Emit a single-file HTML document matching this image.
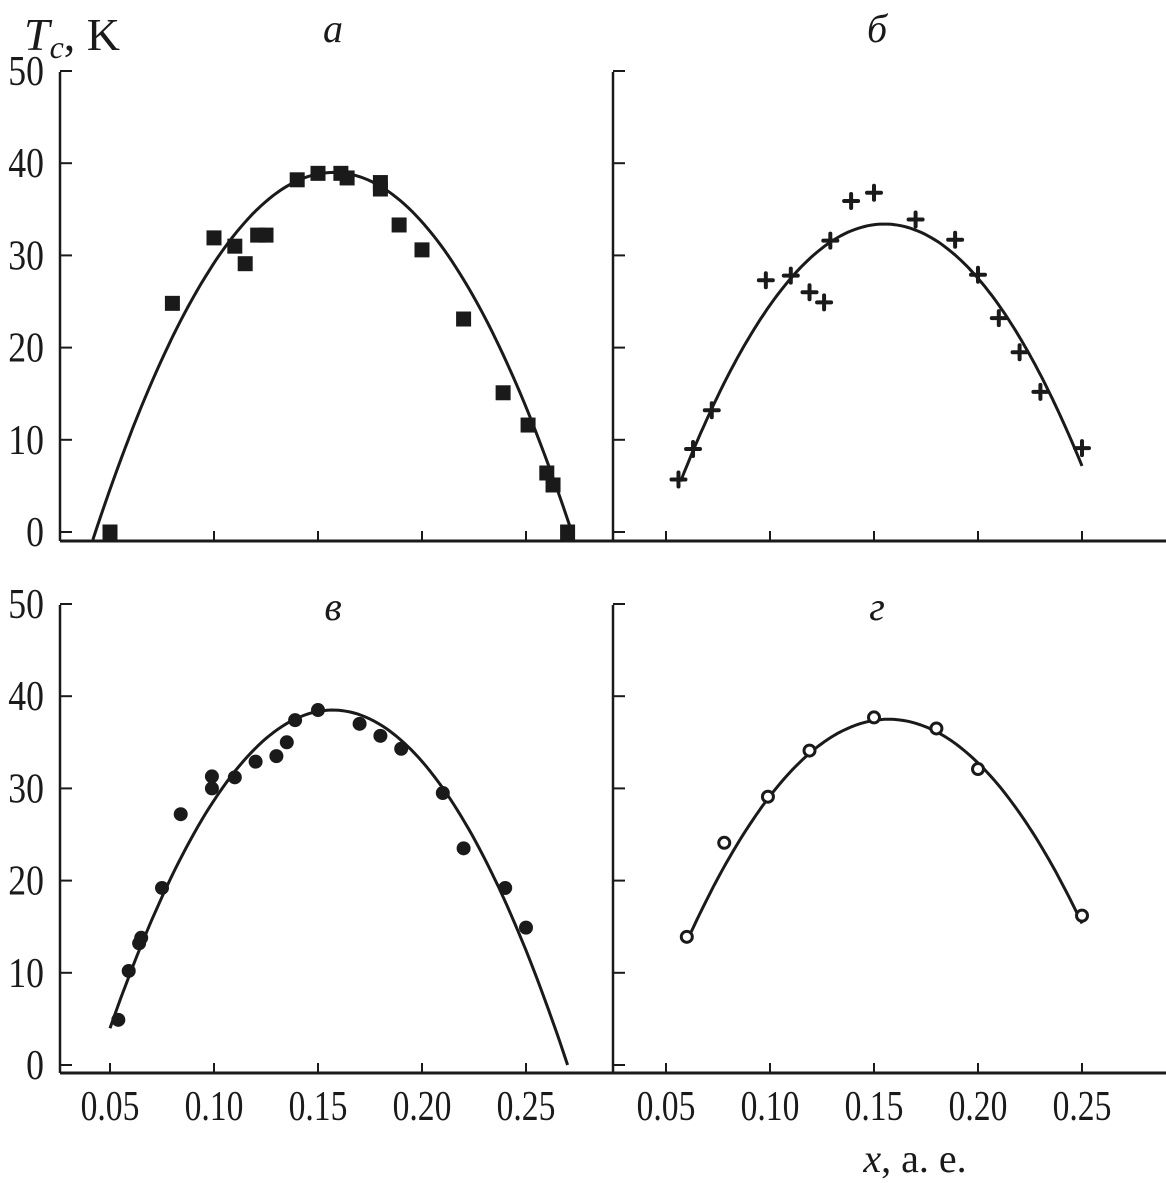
<!DOCTYPE html>
<html><head><meta charset="utf-8"><style>
html,body{margin:0;padding:0;background:#fff;}
svg{display:block;}
text{font-family:"Liberation Serif",serif;fill:#1a1a1a;}
</style></head><body>
<svg id="chart" width="1166" height="1183" viewBox="0 0 1166 1183" xmlns="http://www.w3.org/2000/svg"></svg>
<script>
// ---- data ----
const aX=[0.050,0.080,0.100,0.110,0.115,0.121,0.125,0.140,0.150,0.161,0.164,0.180,0.180,0.189,0.200,0.220,0.239,0.251,0.260,0.263,0.270];
const aY=[0,24.8,31.9,31.0,29.1,32.2,32.2,38.2,38.9,38.9,38.4,37.9,37.2,33.3,30.6,23.1,15.1,11.6,6.4,5.1,0];
const bX=[0.056,0.063,0.072,0.098,0.110,0.119,0.126,0.129,0.139,0.150,0.170,0.189,0.200,0.210,0.220,0.230,0.250];
const bY=[5.7,9.0,13.2,27.3,27.8,26.0,24.9,31.6,35.9,36.8,33.9,31.7,27.9,23.2,19.5,15.2,9.1];
const cX=[0.054,0.059,0.064,0.065,0.075,0.084,0.099,0.099,0.110,0.120,0.130,0.135,0.139,0.150,0.170,0.180,0.190,0.210,0.220,0.240,0.250];
const cY=[4.9,10.2,13.2,13.8,19.2,27.2,31.3,30.0,31.2,32.9,33.5,35.0,37.4,38.5,37.0,35.7,34.3,29.5,23.5,19.2,14.9];
const dX=[0.060,0.078,0.099,0.119,0.150,0.180,0.200,0.250];
const dY=[13.9,24.1,29.1,34.1,37.7,36.5,32.1,16.2];
// fitted parabola params: [peak Tc, peak x, half-width, x from, x to]
const aFit=[39,0.1575,0.1145,0.0418,0.272];
const bFit=[33.4,0.155,0.1072,0.057,0.25];
const cFit=[38.5,0.157,0.113,0.05,0.27];
const dFit=[37.5,0.157,0.121,0.06,0.25];
const xTicks=[0.05,0.10,0.15,0.20,0.25];
const xTickLabels=["0.05","0.10","0.15","0.20","0.25"];
const yTicks=[0,10,20,30,40,50];
const yTickLabels=["0","10","20","30","40","50"];

const NS="http://www.w3.org/2000/svg";
const svg=document.getElementById('chart');
function mk(tag,attrs,parent,txt){const e=document.createElementNS(NS,tag);for(const k in attrs)e.setAttribute(k,attrs[k]);if(txt!==undefined)e.textContent=txt;(parent||svg).appendChild(e);return e;}

const panels=[
 {name:'a',x0:110,y0:532,axisY:541,left:60,right:613,top:72,labelY:42,label:'а',X:aX,Y:aY,fit:aFit,mark:'square'},
 {name:'b',x0:666,y0:532,axisY:541,left:613,right:1166,top:72,labelY:42,label:'б',X:bX,Y:bY,fit:bFit,mark:'plus'},
 {name:'c',x0:110,y0:1065,axisY:1073,left:60,right:613,top:605,labelY:620,label:'в',X:cX,Y:cY,fit:cFit,mark:'dot'},
 {name:'d',x0:666,y0:1065,axisY:1073,left:613,right:1166,top:605,labelY:620,label:'г',X:dX,Y:dY,fit:dFit,mark:'ring'}
];
const PX=2080, PY=9.22;

panels.forEach((p,pi)=>{
  const g=mk('g',{});
  
  
  const sx=v=>p.x0+(v-0.05)*PX;
  const sy=v=>p.y0-v*PY;
  const ax=mk('line',{x1:p.left,y1:p.axisY,x2:p.right,y2:p.axisY,stroke:'#1a1a1a','stroke-width':3},g);
  
  
  const ay=mk('line',{x1:p.left,y1:p.top,x2:p.left,y2:p.axisY,stroke:'#1a1a1a','stroke-width':2.5},g);
  
  
  xTicks.forEach((t,i)=>{
    const tk=mk('line',{x1:sx(t),y1:p.axisY,x2:sx(t),y2:p.axisY-10,stroke:'#1a1a1a','stroke-width':2},g);
    
    
    if(p.name==='c'||p.name==='d'){
      const tl=mk('text',{x:sx(t),y:1120,'font-size':42,'text-anchor':'middle',transform:`translate(${sx(t)} 0) scale(0.8 1) translate(${-sx(t)} 0)`},g,xTickLabels[i]);
      
      
    }
  });
  yTicks.forEach((t,i)=>{
    const tk=mk('line',{x1:p.left,y1:sy(t),x2:p.left+12,y2:sy(t),stroke:'#1a1a1a','stroke-width':2},g);
    
    
    if(p.name==='a'||p.name==='c'){
      const tl=mk('text',{x:44,y:sy(t)+14,'font-size':42,'text-anchor':'end',transform:`translate(44 0) scale(0.85 1) translate(-44 0)`},g,yTickLabels[i]);
      
      
    }
  });
  const [A,xc,w,xa,xb]=p.fit;
  let d='';
  for(let k=0;k<=120;k++){const x=xa+(xb-xa)*k/120;const y=A*(1-((x-xc)/w)**2);d+=(k?'L':'M')+sx(x).toFixed(1)+' '+sy(y).toFixed(1);}
  const cv=mk('path',{d:d,fill:'none',stroke:'#1a1a1a','stroke-width':3},g);
  
  
  p.X.forEach((x,i)=>{
    const cx=sx(x), cy=sy(p.Y[i]); let m;
    if(p.mark==='square') m=mk('rect',{x:cx-7.5,y:cy-7.5,width:15,height:15,fill:'#1a1a1a'},g);
    else if(p.mark==='plus') m=mk('path',{d:`M${cx-7} ${cy}H${cx+7}M${cx} ${cy-7}V${cy+7}`,stroke:'#1a1a1a','stroke-width':4,'stroke-linecap':'round'},g);
    else if(p.mark==='dot') m=mk('circle',{cx:cx,cy:cy,r:7,fill:'#1a1a1a'},g);
    else m=mk('circle',{cx:cx,cy:cy,r:5.5,fill:'#fff',stroke:'#1a1a1a','stroke-width':3},g);
    
    
  });
  const lx=(p.name==='a'||p.name==='c')?333:877;
  const lb=mk('text',{x:lx,y:p.labelY,'font-size':40,'font-style':'italic','text-anchor':'middle'},g,p.label);
  
  
});

const yt=mk('text',{x:24,y:50,'font-size':46},svg);


mk('tspan',{'font-style':'italic'},yt,'T');
mk('tspan',{'font-style':'italic','font-size':32,dy:8},yt,'c');
mk('tspan',{dy:-8},yt,', K');

const xt=mk('text',{x:915,y:1172,'font-size':40,'text-anchor':'middle'},svg);


mk('tspan',{'font-style':'italic'},xt,'x');
mk('tspan',{},xt,', а. е.');
</script>
</body></html>
